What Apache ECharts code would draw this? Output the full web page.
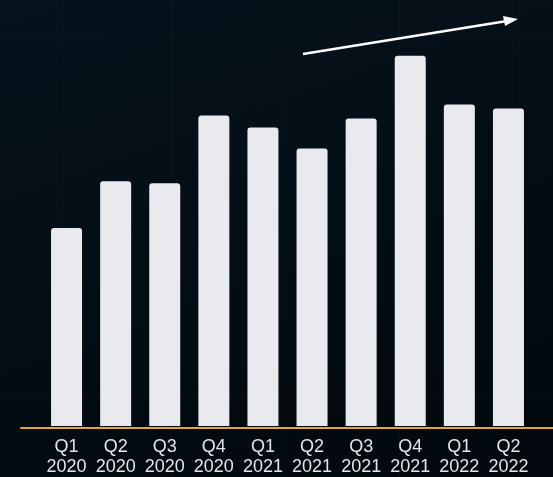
<!DOCTYPE html>
<html>
<head>
<meta charset="utf-8">
<script src="https://cdn.jsdelivr.net/npm/echarts@6/dist/echarts.min.js"></script>
<style>
    html, body {
        margin: 0;
        padding: 0;
        width: 553px;
        height: 477px;
        overflow: hidden;
    }
    body {
        background-color: #04101a;
        background-image:
            linear-gradient(to right, rgba(255, 255, 255, 0.022) 1px, transparent 1px),
            linear-gradient(to bottom, rgba(255, 255, 255, 0.022) 1px, transparent 1px),
            linear-gradient(160deg, #06131c 0%, #030c13 60%, #02080d 100%);
        background-size: 114px 120px, 114px 360px, 100% 100%;
        background-position: 57px 35px, 57px 35px, 0 0;
    }
    #chart {
        width: 553px;
        height: 477px;
    }
</style>
</head>
<body>
<div id="chart"></div>
<script>
// 季度
var quarters = ['Q1\n2020', 'Q2\n2020', 'Q3\n2020', 'Q4\n2020', 'Q1\n2021',
    'Q2\n2021', 'Q3\n2021', 'Q4\n2021', 'Q1\n2022', 'Q2\n2022'];
// 柱子高度
var values = [199, 246, 244, 312, 300, 279, 309, 372, 323, 319];

var chart = echarts.init(document.getElementById('chart'));

var option = {
    backgroundColor: 'transparent',
    animation: false,
    grid: [
        { left: 42, right: 20, top: 28, bottom: 49 },
        { left: 21, right: 0, top: 28, bottom: 49 }
    ],
    xAxis: [
        {
            type: 'category',
            gridIndex: 0,
            data: quarters,
            axisLine: { show: false },
            axisTick: { show: false },
            axisLabel: {
                interval: 0,
                hideOverlap: false,
                color: '#e2e4e7',
                fontFamily: 'Liberation Sans, Arial, sans-serif',
                fontSize: 18,
                lineHeight: 20,
                margin: 11
            }
        },
        {
            type: 'value',
            gridIndex: 1,
            min: 0,
            max: 1,
            axisLine: { show: true, lineStyle: { color: '#e3a82b', width: 2 } },
            axisTick: { show: false },
            axisLabel: { show: false },
            splitLine: { show: false }
        }
    ],
    yAxis: [
        {
            type: 'value',
            gridIndex: 0,
            min: 0,
            max: 400,
            show: false
        },
        {
            type: 'value',
            gridIndex: 1,
            min: 0,
            max: 1,
            show: false
        }
    ],
    series: [
        {
            type: 'bar',
            xAxisIndex: 0,
            yAxisIndex: 0,
            data: values,
            barWidth: 31,
            itemStyle: {
                color: '#e8eaed',
                borderRadius: [3, 3, 0, 0]
            }
        }
    ],
    graphic: [
        {
            type: 'line',
            shape: { x1: 303, y1: 54, x2: 507, y2: 21 },
            style: { stroke: '#ffffff', lineWidth: 2.5 }
        },
        {
            type: 'polygon',
            shape: { points: [[518, 19], [503, 16], [505, 26]] },
            style: { fill: '#ffffff' }
        }
    ]
};
chart.setOption(option);
</script>
</body>
</html>
